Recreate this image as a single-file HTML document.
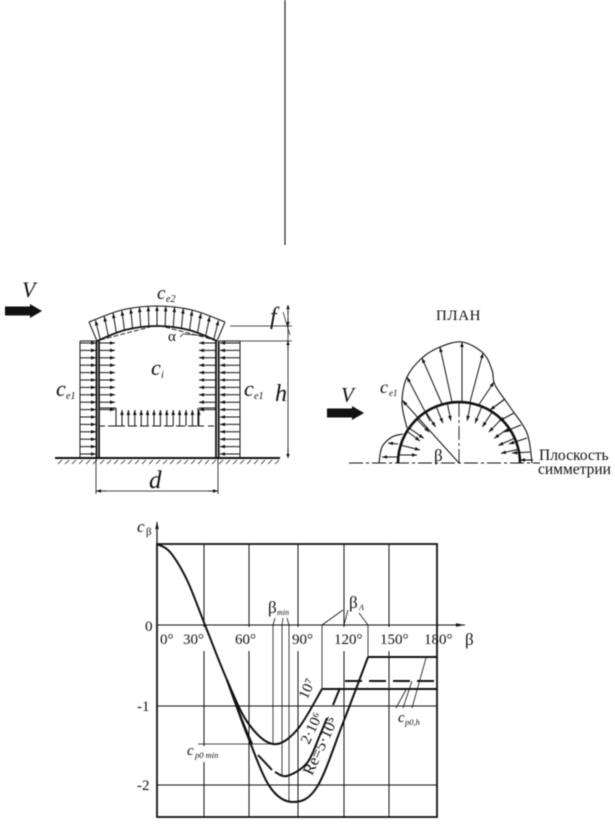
<!DOCTYPE html>
<html><head><meta charset="utf-8"><style>
html,body{margin:0;padding:0;background:#fff}
svg{display:block;filter:blur(.55px)}
text{font-family:"Liberation Serif",serif;fill:#111}
.i{font-style:italic}
</style></head><body>
<svg id="s" xmlns="http://www.w3.org/2000/svg" width="615" height="825" viewBox="0 0 615 825">
<rect width="615" height="825" fill="#fff"/>
<g id="g" fill="none" stroke="#111" stroke-width="1"></g>
<g id="t">
<text class="i" x="22" y="297" font-size="22">V</text>
<text class="i" x="157" y="299" font-size="19">c</text><text class="i" x="166" y="302" font-size="10">e2</text>
<text class="i" x="270" y="324" font-size="24">f</text>
<text x="168" y="341" font-size="15">α</text>
<text class="i" x="151" y="375" font-size="22">c</text><text class="i" x="161" y="378" font-size="10">i</text>
<text class="i" x="56" y="396" font-size="22">c</text><text class="i" x="66" y="399" font-size="10">e1</text>
<text class="i" x="244" y="396" font-size="22">c</text><text class="i" x="254" y="399" font-size="10">e1</text>
<text class="i" x="275" y="401" font-size="24">h</text>
<text class="i" x="149" y="488" font-size="25">d</text>
<text x="436" y="320" font-size="15" letter-spacing=".6">ПЛАН</text>
<text class="i" x="380" y="393" font-size="18">c</text><text class="i" x="389" y="396" font-size="9">e1</text>
<text class="i" x="341" y="402" font-size="21">V</text>
<text x="434" y="461" font-size="17">β</text>
<text x="539" y="460" font-size="15.5">Плоскость</text>
<text x="538" y="474" font-size="15.5">симметрии</text>
<text class="i" x="137" y="532" font-size="17">c</text><text x="146" y="535" font-size="11">β</text>
<text x="145" y="631" font-size="15">0</text>
<text x="137" y="711" font-size="15">-1</text>
<text x="137" y="790" font-size="15">-2</text>
<text x="160" y="644" font-size="15">0°</text>
<text x="183" y="644" font-size="15">30°</text>
<text x="235" y="644" font-size="15">60°</text>
<text x="292" y="644" font-size="15">90°</text>
<text x="334" y="644" font-size="15">120°</text>
<text x="380" y="644" font-size="15">150°</text>
<text x="424" y="644" font-size="15">180°</text>
<text x="465" y="645" font-size="17">β</text>
<text x="268" y="613" font-size="17">β</text><text class="i" x="277" y="615" font-size="8">min</text>
<text x="349" y="608" font-size="17">β</text><text class="i" x="359" y="610" font-size="8">A</text>
<text class="i" x="398" y="722" font-size="15">c</text><text class="i" x="405" y="725" font-size="8.5">p0,h</text>
<text class="i" x="187" y="755" font-size="15">c</text><text class="i" x="195" y="758" font-size="8.5">p0 min</text>
<text transform="translate(307,700) rotate(-65)" font-size="15">10⁷</text>
<text transform="translate(309,745) rotate(-65)" font-size="15">2·10⁶</text>
<text transform="translate(312,776) rotate(-65)" font-size="16">Re=5·10⁵</text>
</g>
</svg>
<script>
var g=document.getElementById('g'),NS='http://www.w3.org/2000/svg';
function el(t,a,p){var e=document.createElementNS(NS,t);for(var k in a)e.setAttribute(k,a[k]);(p||g).appendChild(e);return e}
function L(x1,y1,x2,y2,w,d){var a={x1:x1,y1:y1,x2:x2,y2:y2,'stroke-width':w||1};if(d)a['stroke-dasharray']=d;return el('line',a)}
function A(x1,y1,x2,y2,w,s){L(x1,y1,x2,y2,w||1);s=s||5;var dx=x2-x1,dy=y2-y1,l=Math.hypot(dx,dy)||1;dx/=l;dy/=l;
 var b=1.8;el('polygon',{points:x2+','+y2+' '+(x2-dx*s-dy*b)+','+(y2-dy*s+dx*b)+' '+(x2-dx*s+dy*b)+','+(y2-dy*s-dx*b),fill:'#111',stroke:'none'})}
function S(p,w,d){var s='M'+p[0][0]+' '+p[0][1];for(var i=0;i<p.length-1;i++){var a=p[Math.max(i-1,0)],b=p[i],c=p[i+1],e=p[Math.min(i+2,p.length-1)];
 s+=' C'+(b[0]+(c[0]-a[0])/6)+' '+(b[1]+(c[1]-a[1])/6)+' '+(c[0]-(e[0]-b[0])/6)+' '+(c[1]-(e[1]-b[1])/6)+' '+c[0]+' '+c[1]}
 var o={d:s,'stroke-width':w||1};if(d)o['stroke-dasharray']=d;return el('path',o)}
function W(x,y,w,h){el('rect',{x:x,y:y,width:w,height:h,fill:'#fff',stroke:'none'})}
function Big(x,y){el('polygon',{points:x+','+(y-4.5)+' '+(x+25)+','+(y-4.5)+' '+(x+25)+','+(y-7)+' '+(x+37)+','+y+' '+(x+25)+','+(y+7)+' '+(x+25)+','+(y+4.5)+' '+x+','+(y+4.5),fill:'#111',stroke:'none'})}
var i,x,y;
/* page rule */
L(285,0,285,245,1.1);
/* left drawing */
Big(5,311);
L(55,458,280,458,2);
for(x=58;x<280;x+=7)L(x,464,x+4,460,.7);
/* walls */
L(96.5,341,96.5,458,1.8);L(99,341,99,458,1.8);
L(216,341,216,458,1.8);L(218.7,341,218.7,458,1.8);
/* outer pressure */
L(80,341,96,341);L(80,341,80,458);L(219,341,240,341);L(240,341,240,458);
for(y=343;y<458;y+=7.4){A(80,y,96,y);A(240,y,220,y)}
/* inner */
for(y=343;y<410;y+=7.4){A(99,y,115,y);A(216,y,199,y)}
/* comb */
L(100,408,116,408);L(199,408,216,408);
L(116,408,116,426);L(198,408,198,426);
L(100,426,105,426);L(108,426,116,426);L(198,426,204,426);L(208,426,214,426);
for(x=122;x<=199;x+=6.4)A(x,426,x,410);
L(116,426,198,426,1,'9 3');
/* arch */
S([[89,322],[122,310],[157,306],[192,310],[225,322]],1.1);
S([[97,341],[125,330],[157,326],[189,330],[217,341]],1.8);
L(89,322,97,341);L(225,322,217,341);
L(100,340,150,327,.9,'5 2');L(165,327,215,340,.9,'5 2');
for(i=-7;i<=7;i++){var t=i/7.4;var xi=157+t*60,yi=327+t*t*14,xo=157+t*65,yo=306+t*t*16;A(xi,yi,xo,yo,1,5)}
L(180,337,183,334,.8);L(183,334,208,336,.8);
/* dims */
L(230,326,292,326,.8);L(240,341,292,341,.8);
L(288,305,288,458,.8);
A(288,315,288,305,.8,4);A(288,318,288,326,.8,4);A(288,350,288,341,.8,4);A(288,448,288,458,.8,4);
L(283,312,290,335,.7);
L(96,458,96,494,.8);L(218,458,218,494,.8);
L(96,491,218,491,.8);A(106,491,96,491,.8,5);A(208,491,218,491,.8,5);
/* right drawing */
Big(327,413);
var cx=459,cy=463,R=61;
L(349,463,540,463,.9,'14 3 3 3');
L(cx,403,cx,463,.9,'14 3 3 3');
S([[407,428],[402,403],[407,377],[422,358],[440,347],[462,342],[483,353],[492,370],[495,385],[510,407],[527,433],[532,463]],1.1);
S([[379,463],[382,447],[392,437],[403,434]],1.1);
el('path',{d:'M'+(cx-R)+' '+cy+' A'+R+' '+R+' 0 0 1 '+(cx+R)+' '+cy,'stroke-width':2.6});
/* outward long arrows */
[[407,377,430,421],[422,358,442,404],[440,347,452,402],[462,342,462,402],[483,353,470,402],[494,382,478,406]].forEach(function(a){A(a[2],a[3],a[0],a[1],1,5)});
A(459,463,402,400,1,6);
/* outer right arrows */
[[505,399,490,410],[514,413,499,421],[521,425,504,432],[527,438,509,444],[530,452,512,453],[533,460,520,460]].forEach(function(a){A(a[0],a[1],a[2],a[3],1.1,5)});
/* left lobe */
A(398,457,382,457,1,5);A(398,444,388,443,1,5);
A(400,455,417,455,1,5);A(400,445,420,450,1,5);A(408,432,420,441,1,5);
/* inside short arrows */
for(i=0;i<=14;i++){var an=Math.PI*(13+i*11)/180;if(an>2.6)continue;if(i==7)continue;
 A(cx+60*Math.cos(an),cy-60*Math.sin(an),cx+43*Math.cos(an),cy-43*Math.sin(an),1,5)}
/* chart */
[204,249,298,344,389].forEach(function(x){L(x,544,x,817,1)});
L(157,706,437,706,1);L(157,785,437,785,1);
W(180,627,30,24);W(228,627,30,24);W(288,627,30,24);W(332,627,34,24);W(378,627,30,24);
W(185,746,40,16);
el('rect',{x:157,y:544,width:280,height:273,'stroke-width':1.8});
A(157,544,157,522,1.2,7);
A(157,625,465,625,1,9);
/* leaders */
[[273,625,744],[282,625,776],[289,625,802]].forEach(function(a){L(a[0],a[1],a[0],a[2],.8)});
L(275,618,273,625,.8);L(283,618,282,625,.8);L(287,618,289,625,.8);
L(322,625,322,689,.8);L(368,625,368,657,.8);
L(343,610,322,625,.8);L(348,610,344,625,.8);L(359,613,368,625,.8);
L(198,744,273,744,.8);
L(396,708,407,688,.8);L(403,708,412,681,.8);L(412,708,426,658,.8);
/* curves */
S([[157,544],[170,552],[187,580],[205,625],[227,680],[248,723],[273,744],[297,730],[322,689]],2);
S([[227,680],[242,720],[252,744]],2);
S([[258,755],[272,770]],2);
S([[275,772],[287,776],[307,763],[320,735],[327,718]],2);
L(333,705,340,688,2);
S([[227,680],[248,737],[270,787],[293,802],[317,787],[343,723],[368,657]],2);
L(322,689,437,689,2);
L(368,657,437,657,2);
L(345,681,437,681,2,'17 7');
</script>
</body></html>
